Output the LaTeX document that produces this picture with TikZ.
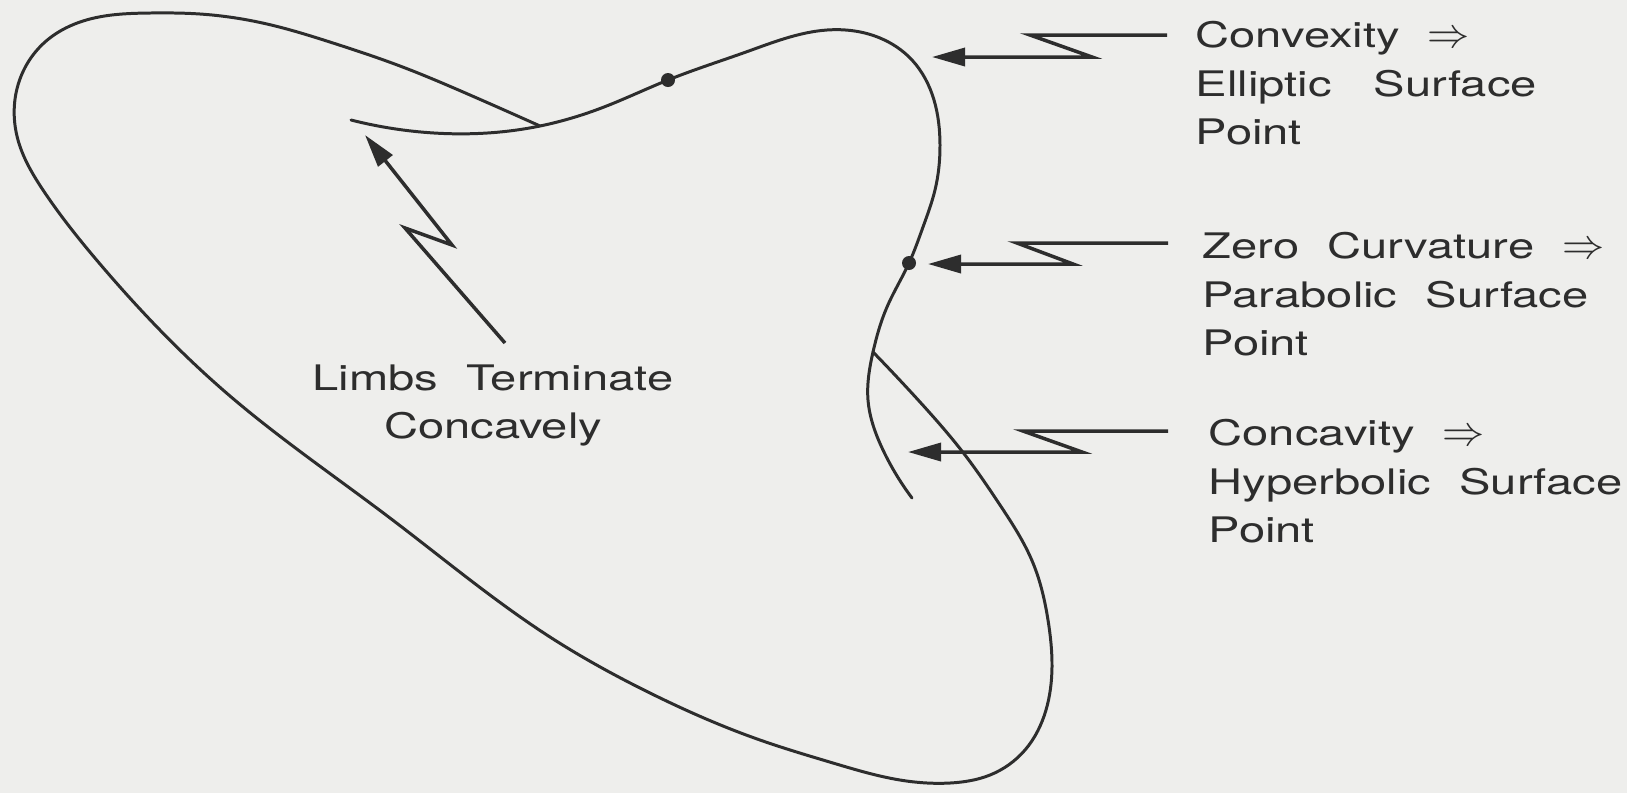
\documentclass[tikz,border=0pt]{standalone}
\usepackage{fontspec}
\newfontfamily\labelfont[FakeStretch=1.34]{TeX Gyre Heros}
\newcommand\labelsetup{\labelfont\fontsize{10}{13.66}\selectfont\spaceskip 0.8em\relax}
\newcommand\implies{{\fontsize{12.5}{13.66}\selectfont$\Rightarrow$}}
\usetikzlibrary{arrows.meta,hobby}
\definecolor{paper}{RGB}{238,238,236}
\definecolor{ink}{RGB}{45,45,45}

\begin{document}
\begin{tikzpicture}[x=0.01cm,y=-0.01cm,
  every node/.style={font=\labelsetup,text=ink,inner sep=0pt},
  limbline/.style={draw=ink,line width=0.85pt,line cap=round,use Hobby shortcut},
  zigarrow/.style={draw=ink,line width=1pt,-{Triangle[length=3.3mm,width=1.8mm]}},
  surfdot/.style={circle,fill=ink,inner sep=0pt,minimum size=1.4mm}]
\fill[paper] (0,0) rectangle (1627,793);
% occluding contour and the two limbs
\draw[limbline] (540,126) .. (470,95) .. (400,66) .. (333,43) .. (267,24) .. (200,14) .. (150,13) .. (90,19) .. (45,42) .. (18,85) .. (18,140) .. (43,190) .. (100,264) .. (230,396) .. (390,518) .. (550,637) .. (650,693) .. (760,740) .. (833,763) .. (900,780) .. (950,783) .. (990,775) .. (1025,750) .. (1046,710) .. (1052,667) .. (1048,620) .. (1033,563) .. (1000,505) .. (965,455) .. (920,402) .. (873,352);
\draw[limbline] (351,120) .. (434,133) .. (540,126) .. (604,107) .. (668,80) .. (746,52) .. (827,30) .. (880,38) .. (912,60) .. (934,100) .. (940,145) .. (935,190) .. (923,227) .. (909,263) .. (887,307) .. (873,352) .. (868,400) .. (883,450) .. (912,498);
\node[surfdot] (inflA) at (668,80) {};
\node[surfdot] (inflB) at (909,263) {};
% labels
\node[anchor=north west,align=left] (convex) at (1195,21) {Convexity \implies\\Elliptic\hspace{0.4em} Surface\\Point};
\node[anchor=north west,align=left] (zerocurv) at (1202,232) {Zero Curvature \implies\\Parabolic Surface\\Point};
\node[anchor=north west,align=left] (concave) at (1208,419) {Concavity \implies\\Hyperbolic Surface\\Point};
\node[anchor=north,align=center] (limbs) at (493,364) {Limbs Terminate\\Concavely};
% zigzag pointers
\coordinate (cvxtail) at (1167,35); \coordinate (cvxzigA) at (1030,35); \coordinate (cvxzigB) at (1092,57); \coordinate (cvxtip) at (932,57);
\coordinate (zertail) at (1168,243); \coordinate (zerzigA) at (1017,243); \coordinate (zerzigB) at (1073,264); \coordinate (zertip) at (928,264);
\coordinate (ccvtail) at (1168,431); \coordinate (ccvzigA) at (1023,431); \coordinate (ccvzigB) at (1082,452); \coordinate (ccvtip) at (908,452);
\coordinate (limtail) at (505,343); \coordinate (limzigB) at (405,228); \coordinate (limzigA) at (452,245); \coordinate (limtip) at (365,135);
\draw[zigarrow] (cvxtail)--(cvxzigA)--(cvxzigB)--(cvxtip);
\draw[zigarrow] (zertail)--(zerzigA)--(zerzigB)--(zertip);
\draw[zigarrow] (ccvtail)--(ccvzigA)--(ccvzigB)--(ccvtip);
\draw[zigarrow] (limtail)--(limzigB)--(limzigA)--(limtip);
\end{tikzpicture}
\end{document}
